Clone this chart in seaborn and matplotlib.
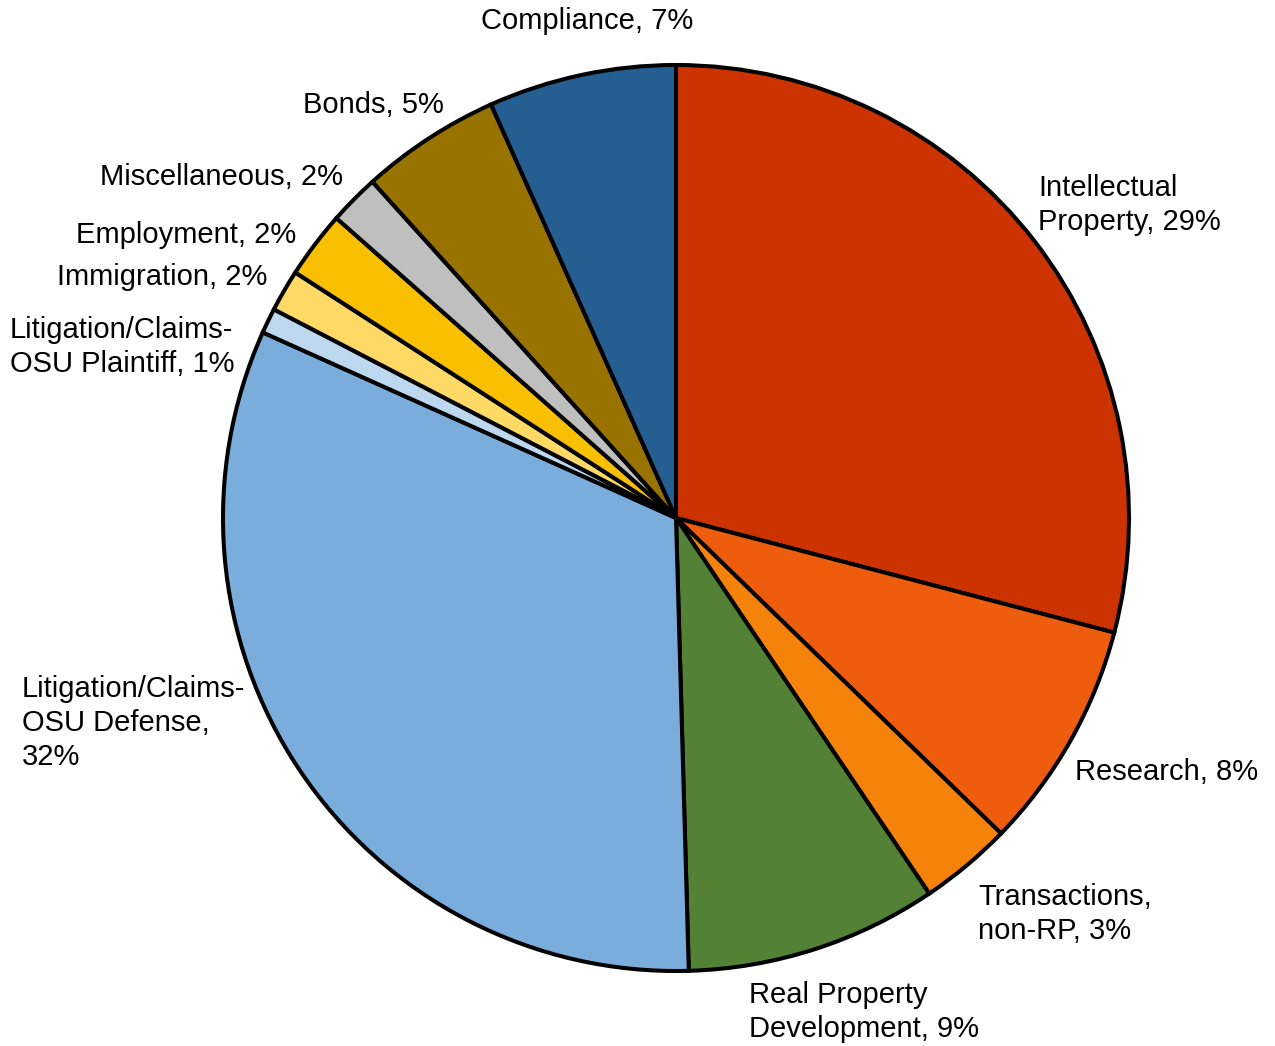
import matplotlib
matplotlib.use("Agg")
import matplotlib.pyplot as plt
import seaborn as sns

sns.set_theme(style="white")
plt.rcParams['font.family'] = ['Liberation Sans', 'DejaVu Sans']

# ---- data (clockwise from 12 o'clock) ----
categories = [
    "Intellectual Property", "Research", "Transactions, non-RP",
    "Real Property Development", "Litigation/Claims-OSU Defense",
    "Litigation/Claims-OSU Plaintiff", "Immigration", "Employment",
    "Miscellaneous", "Bonds", "Compliance",
]
shares = [29.1, 8.2, 3.3, 9.0, 32.2, 0.9, 1.5, 2.4, 1.8, 5.0, 6.7]
label_pct = [29, 8, 3, 9, 32, 1, 2, 2, 2, 5, 7]
label_text = [
    "Intellectual\nProperty, {}%", "Research, {}%", "Transactions,\nnon-RP, {}%",
    "Real Property\nDevelopment, {}%", "Litigation/Claims-\nOSU Defense,\n{}%",
    "Litigation/Claims-\nOSU Plaintiff, {}%", "Immigration, {}%", "Employment, {}%",
    "Miscellaneous, {}%", "Bonds, {}%", "Compliance, {}%",
]
colors = ["#CC3300", "#EE5C0E", "#F5820A", "#538135", "#7AADDB",
          "#BDD7EE", "#FFD966", "#F8C000", "#BFBFBF", "#997300", "#255E91"]

# ---- layout (pixel coordinates, y measured from top) ----
W, H = 1275, 1046
center = (676, 518)
radius = 453
label_pos = [
    (1038, 205, "left"), (1075, 772, "left"), (978, 914, "left"),
    (749, 1012, "left"), (22, 723, "left"), (10, 347, "left"),
    (267, 277, "right"), (296, 235, "right"), (343, 177, "right"),
    (444, 105, "right"), (587, 21, "center"),
]

fig = plt.figure(figsize=(W / 100, H / 100), dpi=100)
ax = fig.add_axes([0, 0, 1, 1])

ax.pie(shares, colors=colors, startangle=90, counterclock=False,
       center=(center[0], H - center[1]), radius=radius,
       wedgeprops=dict(edgecolor="black", linewidth=2.9), frame=True)
ax.set_xlim(0, W)
ax.set_ylim(0, H)
ax.set_aspect("equal")
ax.axis("off")

for txt, pct, (x, y, ha) in zip(label_text, label_pct, label_pos):
    ax.text(x, H - y, txt.format(pct), ha=ha, va="center", fontsize=21,
            color="black", linespacing=1.28, multialignment="left")

fig.savefig("out.png", dpi=100, facecolor="white")
